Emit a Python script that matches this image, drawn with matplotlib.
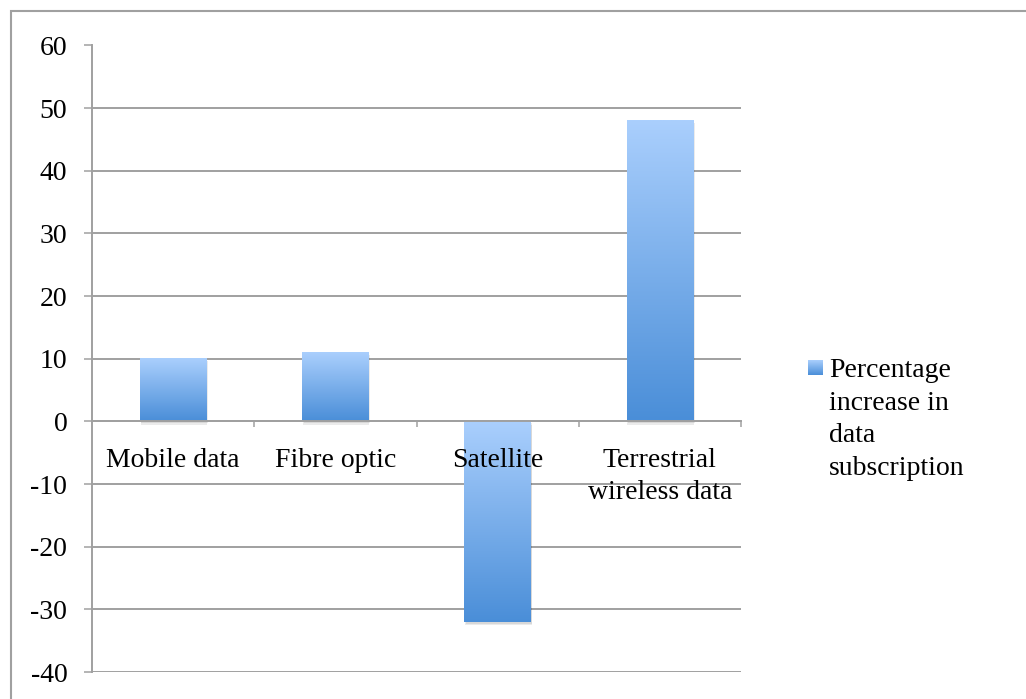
import numpy as np
import matplotlib
matplotlib.use("Agg")
import matplotlib.pyplot as plt
from matplotlib.colors import to_rgb
from matplotlib.patches import Rectangle
import matplotlib.patheffects as pe

categories = ["Mobile data", "Fibre optic", "Satellite", "Terrestrial\nwireless data"]
values = [10, 11, -32, 48]
series_name = "Percentage\nincrease in\ndata\nsubscription"
y_ticks = list(range(-40, 61, 10))

plt.rcParams['font.family'] = ['Liberation Serif', 'DejaVu Serif']
plt.rcParams['axes.unicode_minus'] = False

grey = '#a0a0a0'
top_col = np.array(to_rgb('#aacffd'))
bot_col = np.array(to_rgb('#4a8ed8'))
t = np.linspace(0, 1, 256)[:, None]
grad = (top_col * (1 - t) + bot_col * t)[:, None, :]

W, H = 1026, 699
fig = plt.figure(figsize=(W / 100, H / 100), dpi=100)
ax = fig.add_axes([92 / W, 1 - 672 / H, (741 - 92) / W, (672 - 45.5) / H])
ax.set_axisbelow(False)

x = np.arange(len(categories))
shadow = [pe.SimplePatchShadow(offset=(0.5, -2.5), shadow_rgbFace='k', alpha=0.08),
          pe.SimplePatchShadow(offset=(1, -1.5), shadow_rgbFace='k', alpha=0.08),
          pe.Normal()]
bars = ax.bar(x, values, width=0.41, color=bot_col, edgecolor='none', zorder=1.5,
              path_effects=shadow)
for b in bars:
    x0, y0, w, h = b.get_x(), b.get_y(), b.get_width(), b.get_height()
    lo, hi = min(y0, y0 + h), max(y0, y0 + h)
    ax.imshow(grad, extent=(x0, x0 + w, lo, hi), origin='upper', aspect='auto',
              zorder=2, interpolation='bilinear')

# gridlines under the bars
for yv in y_ticks:
    ax.axhline(yv, color=grey, lw=1.4, zorder=0.5)

ax.set_xlim(-0.5, len(categories) - 0.5)
ax.set_ylim(-40, 60)
ax.set_yticks(y_ticks)

for s in ['top', 'right']:
    ax.spines[s].set_visible(False)
ax.spines['left'].set_color(grey)
ax.spines['left'].set_linewidth(1.4)
ax.spines['bottom'].set_position(('data', 0))
ax.spines['bottom'].set_color(grey)
ax.spines['bottom'].set_linewidth(1.4)

ax.tick_params(axis='y', length=5.8, width=1.1, color=grey, pad=12, labelsize=20)
ax.set_xticks(x)
ax.set_xticklabels(categories)
ax.tick_params(axis='x', which='major', length=0, pad=19, labelsize=20)
for lbl in ax.get_xticklabels():
    lbl.set_linespacing(1.4)
ax.set_xticks(np.arange(len(categories)) + 0.5, minor=True)
ax.tick_params(axis='x', which='minor', length=4.3, width=1.1, color=grey, direction='out')

# legend
fig.text(829 / W, 1 - 358 / H, series_name, ha='left', va='top', fontsize=20,
         linespacing=1.4)
lax = fig.add_axes([808 / W, 1 - 375 / H, 15 / W, 15 / H])
lax.imshow(grad, aspect='auto', interpolation='bilinear')
lax.axis('off')

# outer chart border
fig.add_artist(Rectangle((11 / W, -0.5), 2, 1 - 11 / H + 0.5, transform=fig.transFigure,
                         fill=False, ec=grey, lw=1.5))

fig.savefig('out.png', dpi=100)
